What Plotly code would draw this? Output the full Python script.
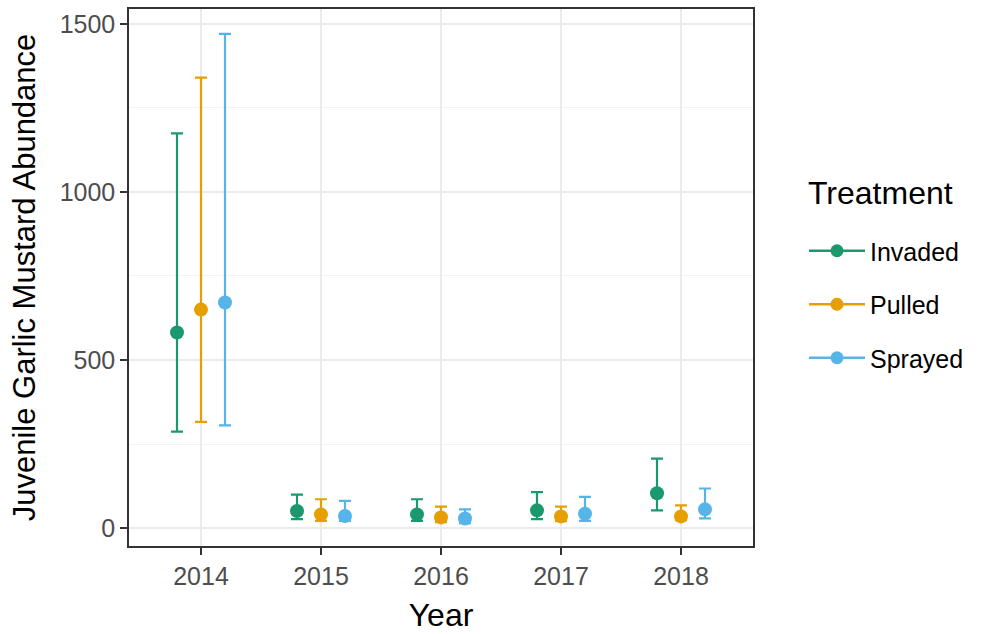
import plotly.graph_objects as go

years = ["2014", "2015", "2016", "2017", "2018"]
treatments = ["Invaded", "Pulled", "Sprayed"]
colors = {"Invaded": "#1A9A6C", "Pulled": "#E69F00", "Sprayed": "#56B4E9"}

mean_invaded = [582, 51, 41, 53, 104]
upper_invaded = [1174, 100, 86, 107, 207]
lower_invaded = [287, 27, 22, 27, 53]

mean_pulled = [650, 41, 32, 35, 35]
upper_pulled = [1340, 86, 64, 64, 68]
lower_pulled = [316, 22, 18, 21, 24]

mean_sprayed = [671, 36, 29, 43, 56]
upper_sprayed = [1470, 81, 56, 93, 118]
lower_sprayed = [306, 22, 15, 22, 29]

data = {
    "Invaded": (mean_invaded, upper_invaded, lower_invaded),
    "Pulled": (mean_pulled, upper_pulled, lower_pulled),
    "Sprayed": (mean_sprayed, upper_sprayed, lower_sprayed),
}
dodge = {"Invaded": -0.2, "Pulled": 0.0, "Sprayed": 0.2}

fig = go.Figure()
for t in treatments:
    m, u, l = data[t]
    xs = [i + dodge[t] for i in range(len(years))]
    fig.add_trace(go.Scatter(
        x=xs, y=m, mode="markers", showlegend=False,
        marker=dict(color=colors[t], size=14),
        error_y=dict(type="data", symmetric=False,
                     array=[uu - mm for uu, mm in zip(u, m)],
                     arrayminus=[mm - ll for mm, ll in zip(m, l)],
                     color=colors[t], thickness=2.2, width=6),
        name=t,
    ))
for t in treatments:
    fig.add_trace(go.Scatter(
        x=[None], y=[None], mode="lines+markers", name=t,
        line=dict(color=colors[t], width=2.5),
        marker=dict(color=colors[t], size=13),
        legendgroup=t,
    ))

fig.add_annotation(
    text="Treatment", xref="paper", yref="paper",
    x=(806 - 129) / (983 - 129 - 230), y=1 - (192 - 7) / (634 - 7 - 87),
    xanchor="left", yanchor="middle", showarrow=False,
    font=dict(size=32, color="black"),
)

fig.update_layout(
    width=983, height=634,
    margin=dict(l=129, r=230, t=7, b=87),
    plot_bgcolor="white", paper_bgcolor="white",
    font=dict(family="Liberation Sans, Arial, sans-serif", color="black"),
    legend=dict(
        font=dict(size=25, color="black"),
        xref="container", yref="container",
        x=804 / 983, y=1 - 228 / 634, xanchor="left", yanchor="top",
        traceorder="grouped", tracegroupgap=18, itemwidth=56,
        bgcolor="rgba(0,0,0,0)",
    ),
    xaxis=dict(
        range=[-0.6, 4.6], tickvals=list(range(len(years))), ticktext=years,
        showgrid=True, gridcolor="#EBEBEB", gridwidth=2, zeroline=False,
        showline=True, mirror=True, linecolor="#333333", linewidth=1.5,
        ticks="outside", ticklen=7, tickcolor="#333333", tickwidth=1.5,
        tickfont=dict(size=25, color="#4D4D4D"),
        title=dict(text="Year", font=dict(size=32, color="black"), standoff=15),
    ),
    yaxis=dict(
        range=[-53, 1544], tickvals=[0, 500, 1000, 1500],
        showgrid=True, gridcolor="#EBEBEB", gridwidth=2, zeroline=False,
        showline=True, mirror=True, linecolor="#333333", linewidth=1.5,
        ticks="outside", ticklen=7, tickcolor="#333333", tickwidth=1.5,
        tickfont=dict(size=25, color="#4D4D4D"),
        minor=dict(tickvals=[250, 750, 1250], showgrid=True, gridcolor="#F2F2F2", gridwidth=1, ticks=""),
        title=dict(text="Juvenile Garlic Mustard Abundance", font=dict(size=31, color="black"), standoff=15),
    ),
)

fig.write_html("out.html")
